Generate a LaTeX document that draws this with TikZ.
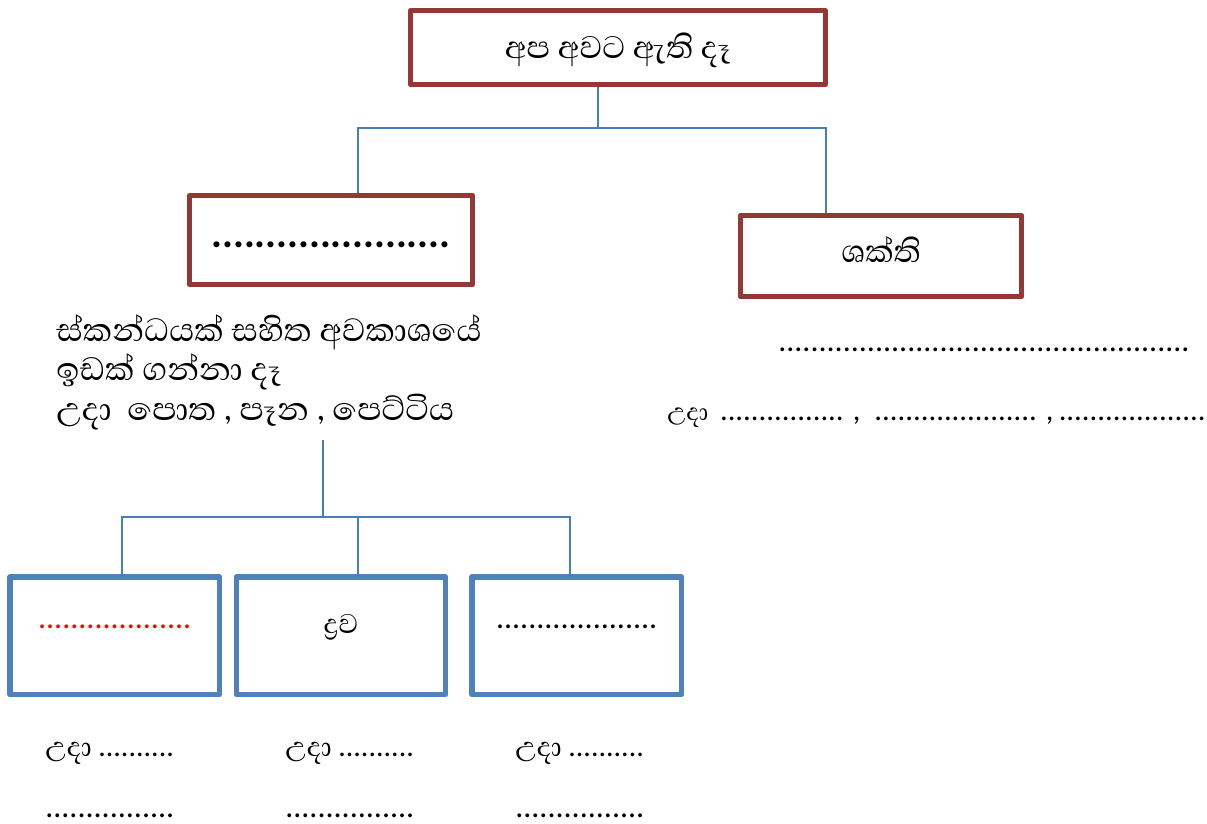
\documentclass[tikz,border=0pt]{standalone}
\usepackage{fontspec}
\setmainfont[Script=Sinhala]{Abhaya Libre}
\newfontfamily\dotfont{Carlito}
\definecolor{boxred}{RGB}{149,55,53}
\definecolor{boxblue}{RGB}{79,129,189}
\definecolor{linkblue}{RGB}{74,126,187}
\newcommand{\reddots}{\textcolor{red}{\dotfont\fontsize{24}{28}\selectfont...................}}
\newcommand{\blankdots}{\dotfont\fontsize{24}{28}\selectfont....................}
\newcommand{\tightlines}{\setlength{\lineskiplimit}{-20pt}}
\begin{document}
\begin{tikzpicture}[x=0.75pt,y=-0.75pt,
  redbox/.style={draw=boxred,line width=3.75pt,line join=round,inner sep=0pt},
  bluebox/.style={draw=boxblue,line width=4pt,line join=round,inner sep=0pt,
    minimum width=157.2pt,minimum height=88.2pt},
  link/.style={draw=linkblue,line width=1.1pt},
  big/.style={font=\fontsize{30}{29.3}\selectfont},
  small/.style={font=\fontsize{26}{28}\selectfont,anchor=west,inner sep=0pt},
  dotline/.style={font=\dotfont\fontsize{24}{28}\selectfont,anchor=west,inner sep=0pt}]
\useasboundingbox (0,0) rectangle (1207,824);

\node[redbox,minimum width=311.25pt,minimum height=55.5pt] (top) at (618,47.5) {};
\node[big] (toptxt) at (618,50) {අප අවට ඇති දෑ};

\node[redbox,minimum width=211.8pt,minimum height=67.2pt] (matter) at (331,240) {};
\node[font=\dotfont\bfseries\fontsize{30.5}{34}\selectfont] (matterdots) at (331,245) {......................};

\node[redbox,minimum width=211pt,minimum height=61pt] (energy) at (881,256) {};
\node[big] (energytxt) at (881,250) {ශක්ති};

\draw[link] (598,0 |- top.south) -- (598,128);
\draw[link] (358,0 |- matter.north) |- (826,128) -- (826,0 |- energy.north);

% last line sits on the base anchor
\node[font=\fontsize{31}{29.3}\selectfont\tightlines,anchor=base west,align=left,inner sep=0pt] (desc) at (56,420)
  {ස්කන්ධයක් සහිත අවකාශයේ\\ඉඩක් ගන්නා දෑ\\උදා\ \ පොත\ , පෑන\ , පෙට්ටිය};

\node[dotline] (energyline) at (778,350) {...................................................};
\node[small,font=\fontsize{23}{28}\selectfont,anchor=base west] (energyex) at (667,420)
  {උදා\ \ {\dotfont\fontsize{23}{28}\selectfont ................ ,\ \ ..................... ,\,...................}};

\foreach \n/\x/\t in {1/114.8/\reddots,2/341/ද්^^^^200dරව,3/576.8/\blankdots}{
  \node[bluebox] (box\n) at (\x,635.8) {};
  \node[small,anchor=center] (boxtxt\n) at (\x,627) {\t};
}

\coordinate (desctap) at (323,440);
\draw[link] (desctap) -- (323,517);
\draw[link] (122,0 |- box1.north) |- (570,517) -- (570,0 |- box3.north);
\draw[link] (358,0 |- box2.north) -- (358,517);

\foreach \x in {45,285,515}{
  \node[small,anchor=base west] (ex\x) at (\x,756) {උදා {\dotfont\fontsize{22.5}{28}\selectfont ..........}};
  \node[dotline] (exdots\x) at (\x,816) {................};
}
\end{tikzpicture}
\end{document}
